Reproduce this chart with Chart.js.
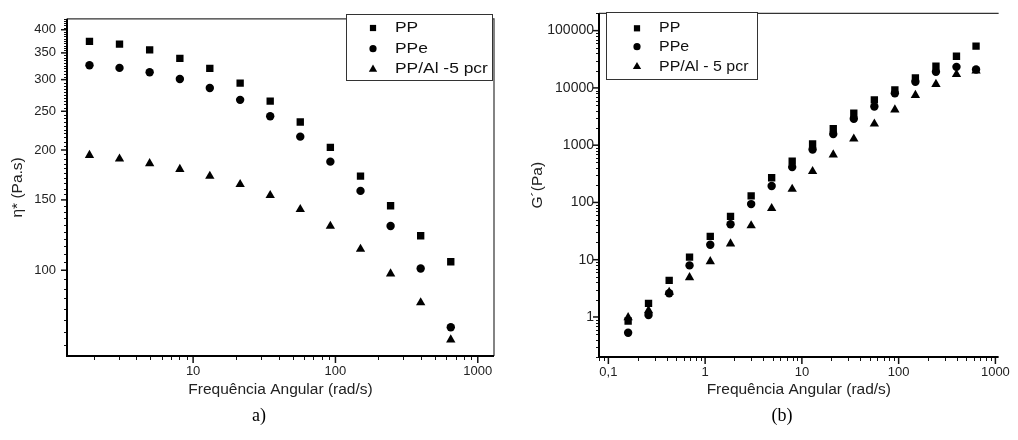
<!DOCTYPE html>
<html>
<head>
<meta charset="utf-8">
<script src="https://cdn.jsdelivr.net/npm/chart.js@4.4.0/dist/chart.umd.min.js"></script>
<style>
  html, body { margin: 0; padding: 0; background: #fff; }
  #wrap { position: relative; width: 1018px; height: 440px; overflow: hidden; }
  .panel { position: absolute; top: 0; width: 509px; height: 440px; }
  .caption { position: absolute; font-family: "Liberation Serif", "Times New Roman", serif; font-size: 18px; color: #000; transform: translate(-50%, -50%); }
</style>
</head>
<body>
<div id="wrap">
  <div class="panel" style="left:0"><canvas id="chartA"></canvas></div>
  <div class="panel" style="left:509px"><canvas id="chartB"></canvas></div>
  <div class="caption" style="left:259px; top:415px">a)</div>
  <div class="caption" style="left:782px; top:415px">(b)</div>
</div>
<script>
// series names
const namesA = ["PP", "PPe", "PP/Al -5 pcr"];
const namesB = ["PP", "PPe", "PP/Al - 5 pcr"];

// a) complex viscosity vs angular frequency
const freqA = [1.87, 3.04, 4.95, 8.07, 13.1, 21.4, 34.8, 56.6, 92.1, 150, 244, 397, 646];
const etaPP = [374, 368, 356, 339, 320, 294, 265, 235, 203, 172, 145, 122, 105];
const etaPPe = [326, 321, 313, 301, 286, 267, 243, 216, 187, 158, 129, 101, 72];
const etaPPAl = [194, 190, 185, 179, 172, 164, 154, 142, 129, 113, 98, 83, 67];

// (b) storage modulus vs angular frequency
const freqB = [0.16, 0.26, 0.425, 0.69, 1.13, 1.83, 2.99, 4.87, 7.94, 12.9, 21.1, 34.4, 56.1, 91.4, 149, 243, 396, 631];
const gPP = [0.85, 1.73, 4.35, 11.1, 25.6, 57, 130, 270, 526, 1050, 1940, 3610, 6170, 9200, 15000, 24000, 35700, 53800];
const gPPe = [0.53, 1.08, 2.6, 7.96, 18.3, 41.5, 93.6, 194, 414, 839, 1560, 2890, 4720, 8040, 12800, 19100, 23300, 21000];
const gPPAl = [0.98, 1.3, 2.7, 4.9, 9.3, 19, 39.5, 79, 171, 350, 680, 1290, 2350, 4160, 7450, 11600, 17200, 19800];

// tick labels
const xTicksA = [10, 100, 1000];
const xLabelsA = ["10", "100", "1000"];
const yTicksA = [100, 150, 200, 250, 300, 350, 400];
const yLabelsA = ["100", "150", "200", "250", "300", "350", "400"];
const xTicksB = [0.1, 1, 10, 100, 1000];
const xLabelsB = ["0,1", "1", "10", "100", "1000"];
const yTicksB = [1, 10, 100, 1000, 10000, 100000];
const yLabelsB = ["1", "10", "100", "1000", "10000", "100000"];

const FONT = '"Liberation Sans", Arial, sans-serif';
const styles = [
  { pointStyle: 'rect', radius: 5.2, legendRadius: 4.4 },
  { pointStyle: 'circle', radius: 4.2, legendRadius: 3.6 },
  { pointStyle: 'triangle', radius: 5.4, legendRadius: 4.8 }
];

function toPoints(xs, ys) {
  return xs.map((x, i) => ({ x: x, y: ys[i] }));
}

function logMinors(min, max) {
  const out = [];
  for (let e = -2; e <= 6; e++) {
    for (let m = 2; m < 10; m++) {
      const v = m * Math.pow(10, e);
      if (v >= min && v <= max) out.push(v);
    }
  }
  return out;
}

function stepMinors(min, max, step, skip) {
  const out = [];
  for (let v = Math.ceil(min / step) * step; v <= max; v += step) {
    if (!skip.includes(v)) out.push(v);
  }
  return out;
}

function marker(ctx, style, r, x, y) {
  ctx.fillStyle = '#000';
  ctx.strokeStyle = '#000';
  if (Chart.helpers && Chart.helpers.drawPoint) {
    Chart.helpers.drawPoint(ctx, { pointStyle: style, radius: r, rotation: 0, borderWidth: 0 }, x, y);
  }
}

// axes lines, tick marks and boxed legend
function framePlugin(cfg) {
  return {
    id: 'frame',
    afterDraw(chart) {
      const ctx = chart.ctx;
      const a = chart.chartArea;
      const xs = chart.scales.x, ys = chart.scales.y;
      ctx.save();
      ctx.strokeStyle = '#111';

      ctx.lineWidth = 1;
      cfg.xMinor.forEach(v => {
        const p = Math.round(xs.getPixelForValue(v)) + 0.5;
        ctx.beginPath(); ctx.moveTo(p, a.bottom); ctx.lineTo(p, a.bottom + 4); ctx.stroke();
      });
      cfg.yMinor.forEach(v => {
        const p = Math.round(ys.getPixelForValue(v)) + 0.5;
        ctx.beginPath(); ctx.moveTo(a.left - 3, p); ctx.lineTo(a.left, p); ctx.stroke();
      });
      ctx.lineWidth = 1.5;
      cfg.xMajor.forEach(v => {
        const p = xs.getPixelForValue(v);
        ctx.beginPath(); ctx.moveTo(p, a.bottom); ctx.lineTo(p, a.bottom + 7); ctx.stroke();
      });
      cfg.yMajor.forEach(v => {
        const p = ys.getPixelForValue(v);
        ctx.beginPath(); ctx.moveTo(a.left - 6, p); ctx.lineTo(a.left, p); ctx.stroke();
      });

      // top / right border
      ctx.strokeStyle = '#333';
      ctx.lineWidth = 1.2;
      ctx.beginPath();
      ctx.moveTo(a.left, a.top);
      ctx.lineTo(a.right, a.top);
      if (cfg.rightBorder) ctx.lineTo(a.right, a.bottom);
      ctx.stroke();

      // main axes
      ctx.strokeStyle = '#000';
      ctx.lineWidth = 2;
      ctx.beginPath();
      ctx.moveTo(a.left, a.top);
      ctx.lineTo(a.left, a.bottom);
      ctx.lineTo(a.right, a.bottom);
      ctx.stroke();

      // legend
      const L = cfg.legend;
      ctx.strokeStyle = '#333';
      ctx.lineWidth = 1;
      ctx.fillStyle = '#fff';
      ctx.fillRect(L.x, L.y, L.w, L.h);
      ctx.strokeRect(L.x + 0.5, L.y + 0.5, L.w, L.h);
      ctx.font = '14.5px ' + FONT;
      ctx.textBaseline = 'middle';
      ctx.textAlign = 'left';
      cfg.names.forEach((n, i) => {
        const y = L.rows[i];
        marker(ctx, styles[i].pointStyle, styles[i].legendRadius, L.mx, y);
        ctx.save();
        ctx.translate(L.tx, y);
        ctx.scale(L.stretch, 1);
        ctx.fillStyle = '#111';
        ctx.fillText(n, 0, 0);
        ctx.restore();
      });
      ctx.restore();
    }
  };
}

function makeChart(id, cfg) {
  const datasets = cfg.series.map((ys, i) => ({
    label: cfg.names[i],
    data: toPoints(cfg.freq, ys),
    pointStyle: styles[i].pointStyle,
    pointRadius: styles[i].radius,
    pointHoverRadius: styles[i].radius,
    pointBorderWidth: 0,
    backgroundColor: '#000',
    borderColor: '#000',
    showLine: false
  }));
  const titleFont = { family: FONT, size: 15.5 };
  return new Chart(document.getElementById(id), {
    type: 'scatter',
    data: { datasets: datasets },
    options: {
      responsive: true,
      maintainAspectRatio: false,
      animation: false,
      layout: { padding: cfg.padding },
      plugins: { legend: { display: false }, tooltip: { enabled: false } },
      scales: {
        x: {
          type: 'logarithmic',
          position: 'bottom',
          min: cfg.xMin, max: cfg.xMax,
          grid: { display: false, drawTicks: false },
          border: { display: false },
          afterBuildTicks: s => { s.ticks = cfg.xMajor.map(v => ({ value: v })); },
          afterFit: s => { s.height = cfg.xHeight; },
          ticks: {
            autoSkip: false, maxRotation: 0, padding: 8, color: '#222',
            font: { family: FONT, size: 13 },
            callback: (v, i) => cfg.xLabels[i]
          },
          title: {
            display: true, text: 'Frequência Angular (rad/s)', color: '#222', font: titleFont,
            padding: { top: 0, bottom: cfg.xTitlePad }
          }
        },
        y: {
          type: 'logarithmic',
          position: 'left',
          min: cfg.yMin, max: cfg.yMax,
          grid: { display: false, drawTicks: false },
          border: { display: false },
          afterBuildTicks: s => { s.ticks = cfg.yMajor.map(v => ({ value: v })); },
          afterFit: s => { s.width = cfg.yWidth; },
          ticks: {
            autoSkip: false, padding: cfg.yTickPad, color: '#222',
            font: { family: FONT, size: cfg.yTickSize },
            callback: (v, i) => cfg.yLabels[i]
          },
          title: {
            display: true, text: cfg.yTitle, color: '#222', font: titleFont,
            padding: { top: cfg.yTitlePad, bottom: 0 }
          }
        }
      }
    },
    plugins: [framePlugin(cfg)]
  });
}

makeChart('chartA', {
  names: namesA,
  freq: freqA,
  series: [etaPP, etaPPe, etaPPAl],
  xMin: 1.3, xMax: 1300, yMin: 61, yMax: 426,
  xMajor: xTicksA, xLabels: xLabelsA, yMajor: yTicksA, yLabels: yLabelsA,
  xMinor: logMinors(1.3, 1300),
  yMinor: stepMinors(61, 426, 5, yTicksA),
  padding: { left: 0, right: 15, top: 8, bottom: 0 },
  xHeight: 84, yWidth: 67, xTitlePad: 41, yTitlePad: 8, yTickPad: 11, yTickSize: 13,
  yTitle: 'η* (Pa.s)',
  rightBorder: true,
  legend: { x: 346, y: 14, w: 146, h: 66, mx: 373, tx: 395, rows: [28, 48.7, 69.3], stretch: 1.2 }
});

makeChart('chartB', {
  names: namesB,
  freq: freqB,
  series: [gPP, gPPe, gPPAl],
  xMin: 0.08, xMax: 1080, yMin: 0.2, yMax: 200000,
  xMajor: xTicksB, xLabels: xLabelsB, yMajor: yTicksB, yLabels: yLabelsB,
  xMinor: logMinors(0.08, 1080),
  yMinor: logMinors(0.2, 200000),
  padding: { left: 0, right: 18, top: 10, bottom: 0 },
  xHeight: 83, yWidth: 90, xTitlePad: 41, yTitlePad: 19, yTickPad: 5, yTickSize: 14,
  yTitle: 'G´(Pa)',
  rightBorder: false,
  legend: { x: 97, y: 12, w: 151, h: 67, mx: 128, tx: 150, rows: [28.3, 46.7, 66.7], stretch: 1.1 }
});
</script>
</body>
</html>
